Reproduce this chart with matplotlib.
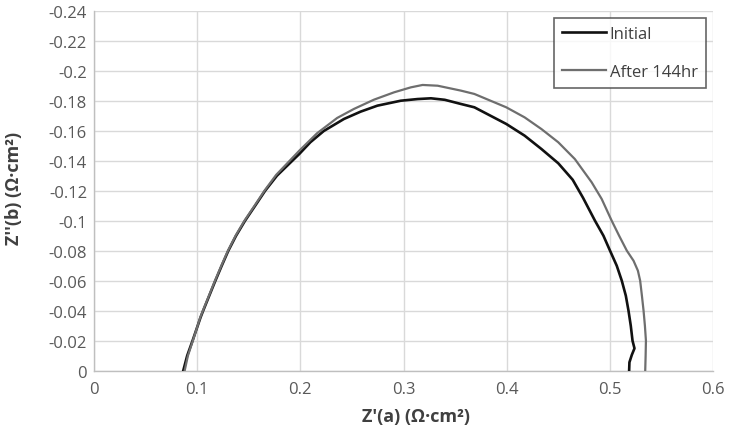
import numpy as np
import matplotlib
matplotlib.use("Agg")
import matplotlib.pyplot as plt
from matplotlib.ticker import FuncFormatter

plt.rcParams['font.family'] = ['Open Sans', 'DejaVu Sans']

# Nyquist data: Z' (x) and Z'' (y), both in ohm*cm2
initial_x = [0.0864, 0.0903, 0.0955, 0.0994, 0.1033, 0.1058, 0.1117, 0.1172,
             0.1238, 0.1302, 0.1377, 0.1464, 0.1562, 0.1659, 0.1773, 0.1990,
             0.2097, 0.2227, 0.2422, 0.2584, 0.2747, 0.2974, 0.3136, 0.3266,
             0.3400, 0.3558, 0.3687, 0.3996, 0.4174, 0.4337, 0.4500, 0.4640,
             0.4740, 0.4856, 0.4938, 0.5002, 0.5067, 0.5116, 0.5155, 0.5181,
             0.5203, 0.5220, 0.5239, 0.5213, 0.5190, 0.5187]
initial_y = [0.0, -0.0102, -0.0202, -0.0280, -0.0358, -0.0402, -0.0502, -0.0595,
             -0.0702, -0.0802, -0.0902, -0.1002, -0.1102, -0.1202, -0.1302,
             -0.1447, -0.1525, -0.1600, -0.1680, -0.1729, -0.1769, -0.1802,
             -0.1813, -0.1818, -0.1808, -0.1780, -0.1758, -0.1647, -0.1569,
             -0.1480, -0.1385, -0.1275, -0.1155, -0.1002, -0.0902, -0.0802,
             -0.0702, -0.0602, -0.0502, -0.0402, -0.0302, -0.0202, -0.0151,
             -0.0107, -0.0058, 0.0]

after_x = [0.0878, 0.0910, 0.0958, 0.0994, 0.1030, 0.1055, 0.1114, 0.1168,
           0.1234, 0.1298, 0.1372, 0.1458, 0.1556, 0.1652, 0.1765, 0.1990,
           0.2162, 0.2357, 0.2519, 0.2714, 0.2909, 0.3071, 0.3185, 0.3331,
           0.3558, 0.3687, 0.3996, 0.4174, 0.4337, 0.4500, 0.4661, 0.4824,
           0.4921, 0.5018, 0.5090, 0.5165, 0.5230, 0.5272, 0.5294, 0.5311,
           0.5327, 0.5340, 0.5350, 0.5347, 0.5343]
after_y = [0.0, -0.0102, -0.0202, -0.0280, -0.0358, -0.0402, -0.0502, -0.0595,
           -0.0702, -0.0802, -0.0902, -0.1002, -0.1102, -0.1202, -0.1307,
           -0.1469, -0.1585, -0.1687, -0.1747, -0.1809, -0.1858, -0.1891,
           -0.1907, -0.1902, -0.1869, -0.1847, -0.1758, -0.1691, -0.1613,
           -0.1525, -0.1413, -0.1258, -0.1147, -0.1002, -0.0902, -0.0802,
           -0.0735, -0.0669, -0.0602, -0.0502, -0.0402, -0.0302, -0.0202,
           -0.0102, 0.0]

x_ticks = [0, 0.1, 0.2, 0.3, 0.4, 0.5, 0.6]
y_ticks = [0, -0.02, -0.04, -0.06, -0.08, -0.1, -0.12, -0.14, -0.16, -0.18,
           -0.2, -0.22, -0.24]

fig = plt.figure(figsize=(7.3, 4.35), dpi=100)
ax = fig.add_axes([0.1288, 0.1448, 0.8479, 0.8276])

ax.plot(initial_x, initial_y, color='#111111', lw=1.9, label='Initial', zorder=3)
ax.plot(after_x, after_y, color='#6e6e6e', lw=1.6, label='After 144hr', zorder=3)

ax.set_xlim(0, 0.6)
ax.set_ylim(0, -0.24)
ax.set_xticks(x_ticks)
ax.set_yticks(y_ticks)


def fmt(v, pos):
    if abs(v) < 1e-9:
        return '0'
    return f'{v:g}'


ax.xaxis.set_major_formatter(FuncFormatter(fmt))
ax.yaxis.set_major_formatter(FuncFormatter(fmt))
ax.tick_params(length=0, labelsize=12, labelcolor='#595959', pad=7)
ax.tick_params(axis='y', pad=5)

ax.grid(True, color='#d9d9d9', lw=1.0)
ax.set_axisbelow(True)
for side in ['top', 'right']:
    ax.spines[side].set_visible(False)
for side in ['left', 'bottom']:
    ax.spines[side].set_color('#bfbfbf')
    ax.spines[side].set_linewidth(1.0)

ax.set_xlabel("Z'(a) (Ω·cm²)", fontsize=13, fontweight='bold', color='#404040')
ax.set_ylabel("Z''(b) (Ω·cm²)", fontsize=13, fontweight='bold', color='#404040')
ax.xaxis.set_label_coords(0.52, -0.1)
ax.yaxis.set_label_coords(-0.115, 0.51)

leg = ax.legend(loc='upper right', bbox_to_anchor=(0.989, 0.981), fontsize=12,
                frameon=True, fancybox=False, edgecolor='#404040',
                handlelength=2.6, handletextpad=0.25, labelspacing=1.3,
                borderpad=0.5, borderaxespad=0)
leg.get_frame().set_linewidth(1.2)
for t in leg.get_texts():
    t.set_color('#404040')

fig.savefig('out.png', dpi=100)
